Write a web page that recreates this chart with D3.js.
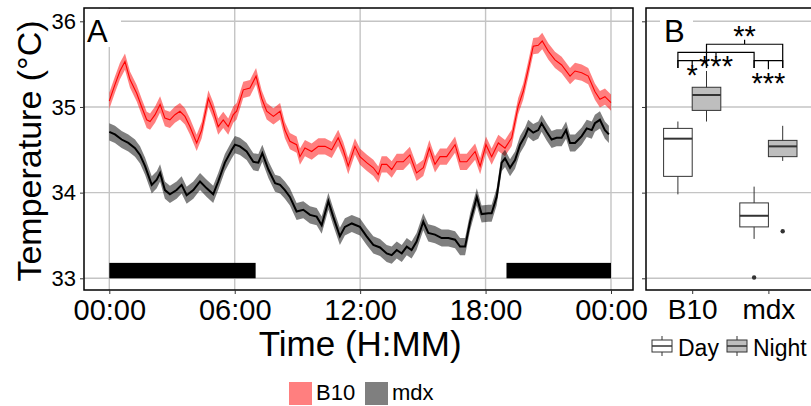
<!DOCTYPE html>
<html><head><meta charset="utf-8">
<script src="https://cdn.jsdelivr.net/npm/d3@7"></script>
<style>body{margin:0;background:#fff}svg{display:block;font-family:"Liberation Sans",Arial,Helvetica,sans-serif}</style>
</head><body><svg id="c" width="811" height="406"></svg>
<script>
// ---------- data ----------
const hourTicks = [0, 6, 12, 18, 24];
const hourLabels = ["00:00", "06:00", "12:00", "18:00", "00:00"];
const tempTicks = [33, 34, 35, 36];
const seriesNames = ["B10", "mdx"];
// [hour, mean temperature]
const b10Series = [[0.00,35.07],[0.27,35.26],[0.51,35.42],[0.75,35.53],[0.99,35.32],[1.31,35.16],[1.55,35.00],[1.79,34.85],[1.95,34.83],[2.19,34.91],[2.43,35.03],[2.66,34.87],[2.90,34.85],[3.14,34.91],[3.38,34.95],[3.62,34.89],[3.86,34.77],[4.18,34.58],[4.42,34.73],[4.74,35.10],[4.97,34.96],[5.21,34.77],[5.45,34.85],[5.69,34.77],[5.93,34.91],[6.09,34.95],[6.41,35.20],[6.73,35.22],[7.02,35.36],[7.29,35.10],[7.53,34.95],[7.85,34.89],[8.17,34.95],[8.40,34.73],[8.64,34.60],[8.96,34.56],[9.12,34.42],[9.36,34.52],[9.68,34.48],[10.00,34.54],[10.32,34.54],[10.64,34.50],[10.95,34.64],[11.19,34.50],[11.43,34.31],[11.75,34.54],[11.99,34.42],[12.31,34.35],[12.63,34.29],[12.87,34.21],[13.03,34.33],[13.27,34.33],[13.51,34.27],[13.75,34.36],[14.06,34.36],[14.38,34.44],[14.70,34.23],[15.02,34.29],[15.31,34.52],[15.58,34.33],[15.82,34.42],[16.14,34.42],[16.54,34.56],[16.78,34.36],[17.10,34.36],[17.50,34.48],[17.74,34.31],[18.02,34.56],[18.29,34.42],[18.61,34.58],[18.93,34.52],[19.25,34.64],[19.56,35.01],[19.80,35.18],[20.04,35.44],[20.28,35.71],[20.52,35.72],[20.71,35.77],[21.00,35.65],[21.32,35.55],[21.64,35.49],[22.04,35.36],[22.28,35.42],[22.60,35.40],[22.91,35.36],[23.23,35.18],[23.47,35.09],[23.71,35.12],[24.00,35.05]];
const mdxSeries = [[0.00,34.71],[0.27,34.68],[0.59,34.62],[0.91,34.58],[1.23,34.52],[1.47,34.44],[1.71,34.31],[2.03,34.09],[2.27,34.15],[2.43,34.23],[2.66,34.03],[2.90,33.98],[3.22,34.03],[3.46,34.09],[3.70,33.97],[4.02,34.03],[4.34,34.13],[4.66,34.05],[4.97,33.98],[5.21,34.13],[5.53,34.35],[5.86,34.50],[6.01,34.56],[6.25,34.54],[6.57,34.48],[6.89,34.36],[7.13,34.35],[7.32,34.46],[7.61,34.27],[7.93,34.11],[8.17,34.09],[8.40,34.03],[8.64,33.95],[8.96,33.78],[9.28,33.80],[9.60,33.74],[9.92,33.72],[10.16,33.62],[10.48,33.90],[10.71,33.72],[11.03,33.49],[11.27,33.60],[11.60,33.64],[11.99,33.60],[12.31,33.49],[12.63,33.39],[12.95,33.36],[13.27,33.29],[13.51,33.27],[13.75,33.33],[13.99,33.29],[14.23,33.37],[14.46,33.33],[14.70,33.43],[15.02,33.66],[15.26,33.53],[15.58,33.51],[15.90,33.47],[16.22,33.47],[16.54,33.45],[16.78,33.37],[17.02,33.37],[17.26,33.66],[17.58,33.95],[17.81,33.75],[18.13,33.76],[18.29,33.76],[18.53,33.95],[18.77,34.35],[18.93,34.40],[19.17,34.29],[19.41,34.38],[19.65,34.56],[19.89,34.66],[20.04,34.75],[20.28,34.70],[20.52,34.73],[20.68,34.81],[20.92,34.71],[21.16,34.62],[21.40,34.64],[21.64,34.64],[21.85,34.73],[22.04,34.58],[22.28,34.58],[22.60,34.66],[22.84,34.75],[23.08,34.73],[23.23,34.81],[23.47,34.85],[23.71,34.73],[23.90,34.68]];
const b10SE = 0.095;
const mdxSE = 0.10;
const darkPeriods = [[0, 7], [19, 24]];
const darkBar = [33.0, 33.18];

const genotypes = ["B10", "mdx"];
const phases = ["Day", "Night"];
const boxStats = [
  {g:"B10", p:"Day",   lo:33.98, q1:34.19, med:34.63, q3:34.75, hi:34.83, out:[]},
  {g:"B10", p:"Night", lo:34.83, q1:34.96, med:35.14, q3:35.23, hi:35.42, out:[]},
  {g:"mdx", p:"Day",   lo:33.46, q1:33.60, med:33.73, q3:33.88, hi:34.07, out:[33.01]},
  {g:"mdx", p:"Night", lo:34.37, q1:34.42, med:34.54, q3:34.61, hi:34.78, out:[33.55]}
];
// significance brackets: groups, bracket level, label level, centre-tick direction
const sigBrackets = [
  {a:["B10","Night"], b:["mdx","Night"], level:35.732, labelAt:35.89, label:"**",  tick:-4.5},
  {a:["B10","Day"],   b:["mdx","Day"],   level:35.638, labelAt:35.54, label:"***", tick:4.5},
  {a:["B10","Day"],   b:["B10","Night"], level:35.540, labelAt:35.44, label:"*",   tick:4.5},
  {a:["mdx","Day"],   b:["mdx","Night"], level:35.540, labelAt:35.345, label:"***", tick:8.5}
];
const bracketFoot = 35.455;

// ---------- drawing ----------
const svg = d3.select("#c");
const gridCol = "#c4c4c4";
const axisCol = "#333";

// Panel A
const A = {l:84, r:633, t:8, b:290};
const x = d3.scaleLinear().domain([0, 24]).range([109.3, 611]);
const y = d3.scaleLinear().domain([33, 36]).range([278.3, 21.3]);

const gA = svg.append("g");
gA.selectAll(".hg").data(tempTicks).join("line")
  .attr("x1", A.l).attr("x2", A.r).attr("y1", d=>y(d)).attr("y2", d=>y(d))
  .attr("stroke", gridCol).attr("stroke-width", 1.4);
gA.selectAll(".vg").data(hourTicks).join("line")
  .attr("x1", d=>x(d)).attr("x2", d=>x(d)).attr("y1", A.t).attr("y2", A.b)
  .attr("stroke", gridCol).attr("stroke-width", 1.4);

// ribbons
const ribbon = se => d3.area().x(d=>x(d[0])).y0(d=>y(d[1]-se)).y1(d=>y(d[1]+se));
gA.append("path").datum(b10Series).attr("d", ribbon(b10SE)).attr("fill", "#ff0000").attr("fill-opacity", 0.5);
gA.append("path").datum(mdxSeries).attr("d", ribbon(mdxSE)).attr("fill", "#000").attr("fill-opacity", 0.5);
const line = d3.line().x(d=>x(d[0])).y(d=>y(d[1]));
gA.append("path").datum(b10Series).attr("d", line).attr("fill", "none").attr("stroke", "#ff0000").attr("stroke-width", 1.1);
gA.append("path").datum(mdxSeries).attr("d", line).attr("fill", "none").attr("stroke", "#000").attr("stroke-width", 2);

// dark period bars
gA.selectAll(".dark").data(darkPeriods).join("rect")
  .attr("x", d=>x(d[0])).attr("width", d=>x(d[1])-x(d[0]))
  .attr("y", y(darkBar[1])).attr("height", y(darkBar[0])-y(darkBar[1]))
  .attr("fill", "#000");

// panel label A with white box
gA.append("rect").attr("x", A.l+1).attr("y", A.t+1).attr("width", 36).attr("height", 38).attr("fill", "#fff");
gA.append("text").attr("x", 87).attr("y", 42).attr("font-size", 31).text("A");

gA.append("rect").attr("x", A.l).attr("y", A.t).attr("width", A.r-A.l).attr("height", A.b-A.t)
  .attr("fill", "none").attr("stroke", "#000").attr("stroke-width", 1.5);

// axes A
const ax = svg.append("g").attr("transform", `translate(0,${A.b})`)
  .call(d3.axisBottom(x).tickValues(hourTicks).tickFormat((d,i)=>hourLabels[i]).tickSize(4).tickPadding(5));
ax.select(".domain").remove();
ax.selectAll("line").attr("stroke", axisCol);
ax.selectAll("text").attr("font-size", 29).attr("fill", "#000").attr("font-family", "Liberation Sans, Arial, sans-serif");

const ay = svg.append("g").attr("transform", `translate(${A.l},0)`)
  .call(d3.axisLeft(y).tickValues(tempTicks).tickFormat(d3.format("d")).tickSize(4).tickPadding(4));
ay.select(".domain").remove();
ay.selectAll("line").attr("stroke", axisCol);
ay.selectAll("text").attr("font-size", 22).attr("fill", "#000").attr("font-family", "Liberation Sans, Arial, sans-serif");

svg.append("text").attr("transform", `translate(41,${(A.t+A.b)/2 + 2}) rotate(-90)`)
  .attr("text-anchor", "middle").attr("font-size", 34).text("Temperature (°C)");
svg.append("text").attr("x", (x(0)+x(24))/2).attr("y", 356)
  .attr("text-anchor", "middle").attr("font-size", 35).text("Time (H:MM)");

// Panel B
const B = {l:646, r:814, t:8, b:290};
const xg = d3.scalePoint().domain(genotypes).range([692.2, 768.4]);
const xp = d3.scaleBand().domain(phases).range([-28.6, 28.6]);
const bw = xp.bandwidth();
const cx = (g,p) => xg(g) + xp(p) + bw/2;

const gB = svg.append("g");
gB.selectAll(".hg").data(tempTicks).join("line")
  .attr("x1", B.l).attr("x2", B.r).attr("y1", d=>y(d)).attr("y2", d=>y(d))
  .attr("stroke", gridCol).attr("stroke-width", 1.4);

const phaseFill = {Day:"#ffffff", Night:"#bebebe"};
const boxes = gB.selectAll(".box").data(boxStats).join("g");
boxes.append("line").attr("x1", d=>cx(d.g,d.p)).attr("x2", d=>cx(d.g,d.p))
  .attr("y1", d=>y(d.hi)).attr("y2", d=>y(d.lo)).attr("stroke", axisCol).attr("stroke-width", 1);
boxes.append("rect").attr("x", d=>cx(d.g,d.p)-bw/2).attr("width", bw)
  .attr("y", d=>y(d.q3)).attr("height", d=>y(d.q1)-y(d.q3))
  .attr("fill", d=>phaseFill[d.p]).attr("stroke", axisCol).attr("stroke-width", 1);
boxes.append("line").attr("x1", d=>cx(d.g,d.p)-bw/2).attr("x2", d=>cx(d.g,d.p)+bw/2)
  .attr("y1", d=>y(d.med)).attr("y2", d=>y(d.med)).attr("stroke", axisCol).attr("stroke-width", 2);
boxes.each(function(d){
  d3.select(this).selectAll("circle").data(d.out).join("circle")
    .attr("cx", cx(d.g,d.p)).attr("cy", v=>y(v)).attr("r", 2.2).attr("fill", axisCol);
});

// significance brackets
const gS = gB.append("g").attr("stroke", "#000").attr("stroke-width", 1.2).attr("fill", "none");
sigBrackets.forEach(s => {
  const x1 = cx(...s.a), x2 = cx(...s.b), yl = y(s.level), yf = y(bracketFoot), xm = (x1+x2)/2;
  gS.append("path").attr("d", `M${x1},${yf}V${yl}H${x2}V${yf}M${xm},${yl}v${s.tick}`);
  gB.append("text").attr("x", xm).attr("y", y(s.labelAt) + 15.5).attr("text-anchor", "middle")
    .attr("font-size", 29).text(s.label);
});

gB.append("rect").attr("x", B.l+14).attr("y", B.t+1).attr("width", 33).attr("height", 38).attr("fill", "#fff");
gB.append("text").attr("x", 664).attr("y", 42).attr("font-size", 31).text("B");

gB.append("rect").attr("x", B.l).attr("y", B.t).attr("width", B.r-B.l).attr("height", B.b-B.t)
  .attr("fill", "none").attr("stroke", "#000").attr("stroke-width", 1.5);

const bx = svg.append("g").attr("transform", `translate(0,${B.b})`)
  .call(d3.axisBottom(xg).tickSize(4).tickPadding(5));
bx.select(".domain").remove();
bx.selectAll("line").attr("stroke", axisCol);
bx.selectAll("text").attr("font-size", 28).attr("fill", "#000").attr("font-family", "Liberation Sans, Arial, sans-serif");
const by = svg.append("g").attr("transform", `translate(${B.l},0)`)
  .call(d3.axisLeft(y).tickValues(tempTicks).tickSize(4).tickFormat(""));
by.select(".domain").remove();
by.selectAll("line").attr("stroke", axisCol);

// legend B (phases)
const legB = svg.append("g");
const legBx = [652, 727];
phases.forEach((p,i) => {
  const g = legB.append("g").attr("transform", `translate(${legBx[i]},336)`);
  g.append("line").attr("x1", 10).attr("x2", 10).attr("y1", 0).attr("y2", 20).attr("stroke", axisCol);
  g.append("rect").attr("x", 0).attr("y", 4).attr("width", 20).attr("height", 12)
    .attr("fill", phaseFill[p]).attr("stroke", axisCol).attr("stroke-width", 1);
  g.append("line").attr("x1", 0).attr("x2", 20).attr("y1", 10).attr("y2", 10).attr("stroke", axisCol).attr("stroke-width", 1.5);
  g.append("text").attr("x", 26).attr("y", 19.5).attr("font-size", 23).text(p);
});

// legend A (series)
const legA = svg.append("g");
const legAx = [289, 365];
const swatch = ["#ff7f7f", "#7f7f7f"];
seriesNames.forEach((s,i) => {
  legA.append("rect").attr("x", legAx[i]).attr("y", 382).attr("width", 23).attr("height", 23).attr("fill", swatch[i]);
  legA.append("text").attr("x", legAx[i]+27).attr("y", 400).attr("font-size", 22).text(s);
});
</script></body></html>
